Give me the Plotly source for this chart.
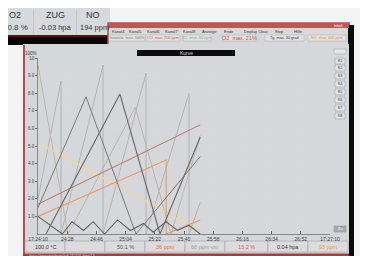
import plotly.graph_objects as go

# ---------------- data ----------------
x_tickvals = [0, 18, 36, 54, 72, 90, 108, 126, 144, 162, 180]
x_ticktext = ["17:24:10", "24:28", "24:46", "25:04", "25:22", "25:40",
              "25:58", "26:16", "26:34", "26:52", "17:27:10"]
y_tickvals = [1, 2, 3, 4, 5, 6, 7, 8, 9, 10]
y_ticktext = ["1.0", "2.0", "3.0", "4.0", "5.0", "6.0", "7.0", "8.0", "9.0", "10"]

# seconds since 17:24:10 / scaled value (x10 %)
yellow_t = [0, 100]
yellow_v = [5.2, 0.2]
brown_t = [0, 100]
brown_v = [1.7, 6.2]
orange_t = [0, 79, 79, 100]
orange_v = [1.0, 4.2, 0.0, 0.8]
gray1_t = [0, 14.2, 14.2, 40.1, 40.1, 66.6, 66.6, 93.1, 93.1, 100]
gray1_v = [2.0, 8.7, 0.0, 9.6, 0.0, 9.15, 0.0, 8.0, 0.0, 1.8]
gray2_t = [0, 18.5, 60, 82, 100]
gray2_v = [9.6, 0.0, 7.2, 0.0, 5.6]
dark1_t = [4.9, 50.5, 75.2, 100]
dark1_v = [0.0, 7.95, 0.0, 5.5]
dark2_t = [0, 29.6, 60.4, 100]
dark2_v = [1.5, 7.8, 0.0, 4.4]
zig_t = [0, 15, 21, 28, 34, 41, 49, 57, 65, 71, 79, 86, 93, 100]
zig_v = [1.0, 0.0, 0.7, 0.2, 0.7, 0.0, 0.8, 0.2, 0.6, 0.1, 0.7, 0.2, 0.5, 0.0]

series = [
    ("Kanal1", gray1_t, gray1_v, "#b4b4b4", 1.0),
    ("Kanal2", gray2_t, gray2_v, "#bdb5ad", 1.0),
    ("Kanal3", yellow_t, yellow_v, "#f2d890", 1.3),
    ("Kanal4", brown_t, brown_v, "#b87868", 1.1),
    ("Kanal5", orange_t, orange_v, "#eb9a6a", 1.1),
    ("Kanal6", dark1_t, dark1_v, "#666666", 1.1),
    ("Kanal7", dark2_t, dark2_v, "#787878", 1.0),
    ("Kanal8", zig_t, zig_v, "#606060", 1.1),
]

header_labels = ["O2", "ZUG", "NO"]
header_values = ["20.8 %", "-0.03 hpa", "194 ppm"]
menu_items = ["Kanal4", "Kanal5", "Kanal6", "Kanal7", "Kanal8", "Anzeige", "Ende",
              "Display Clear", "Stop", "Hilfe"]
button_texts = ["Istwerte  max. 100%", "CO  max. 200 ppm", "SO  max. 80 ppm",
                "O2  max. 21%", "Tg. max. 30 grad", "NO  max. 400 ppm"]
button_colors = ["#777777", "#d06040", "#8aa888", "#d04848", "#333333", "#e89040"]
status_texts = ["100.0 °C", "", "50.1 %", "36 ppm", "66 ppm vm", "13.2 %", "0.04 hpa", "93 ppm"]
status_colors = ["#333333", "#e8d070", "#555555", "#e07030", "#8aa888", "#d06060", "#333333", "#e8a040"]
side_buttons = ["K1", "K2", "K3", "K4", "K5", "K6", "K7", "K8"]

# ---------------- layout geometry (pixels) ----------------
W, H = 368, 256
PL, PR, PT, PB = 30, 322, 50, 226


def X(px):
    return (px - PL) / (PR - PL)


def Y(py):
    return (PB - py) / (PB - PT)


fig = go.Figure()
for name, t, v, c, w in series:
    fig.add_trace(go.Scatter(x=t, y=v, mode="lines", name=name,
                             line=dict(color=c, width=w), hoverinfo="skip"))

shapes = []


def rect(x0, y0, x1, y1, fill, line=None, lw=0, layer="below"):
    shapes.append(dict(type="rect", xref="paper", yref="paper",
                       x0=X(x0), x1=X(x1), y0=Y(y1), y1=Y(y0),
                       fillcolor=fill, line=dict(color=line or fill, width=lw),
                       layer=layer))


annotations = []


def text(x, y, s, color="#444444", size=5, anchor="center", family="Liberation Sans"):
    annotations.append(dict(xref="paper", yref="paper", x=X(x), y=Y(y), text=s,
                            showarrow=False, xanchor=anchor, yanchor="middle",
                            borderpad=0,
                            font=dict(size=size, color=color, family=family)))


# header area
rect(0, 0, 102, 28, "#d7dadd")
rect(25, 2, 26, 26, "#c4c7ca")
rect(68, 2, 69, 26, "#c4c7ca")
text(14, 7, header_labels[0], "#333333", 9, "right")
text(21, 19, header_values[0], "#333333", 8, "right")
text(47, 7, header_labels[1], "#333333", 9)
text(47, 19, header_values[1], "#333333", 7.5)
text(85, 7, header_labels[2], "#333333", 9)
text(86, 19, header_values[2], "#333333", 7.5)
rect(0, 27, 102, 37, "#050505")
rect(0, 27, 102, 29, "#5a1010")

# main window
rect(100, 15, 341, 252, "#d5d6d9", "#b24848", 1.5)
rect(340, 17, 346, 253, "#0a0a0a")
rect(100, 15, 341, 20, "#c45555")
text(330, 17.5, "Inhalt", "#ffffff", 3.5)
rect(101, 20, 340, 26, "#d9d9d9")
menu_x = [110, 127, 145, 163, 181, 201, 221, 248, 271, 290]
for mx, m in zip(menu_x, menu_items):
    text(mx, 23, m, "#333333", 4)
btn_x = [(101, 137), (138, 172), (175, 203), (214, 248), (257, 296), (300, 338)]
for (b0, b1), s, c in zip(btn_x, button_texts, button_colors):
    rect(b0, 27, b1, 33, "#e2e2e2", "#b0b0b0", 0.5)
    text((b0 + b1) / 2, 30, s, c, 3.8 if c != "#d04848" else 5.5)

# chart panel
rect(15, 36, 341, 250, "#d6d7da")
rect(15, 37, 17, 250, "#c04848")
rect(15, 245.5, 341, 251, "#a83c3c")
rect(15, 251, 346, 256, "#050505")
text(20, 248, "Status: Datenaufzeichnung läuft  17:27:10  Kanal 1-8", "#f0d0d0", 2.8, "left")
rect(129, 42, 227, 48, "#0a0a0a")
text(178, 45, "Kurve", "#dddddd", 5)
text(23, 45, "100%", "#444444", 4.5)
rect(326, 41, 338, 46, "#e6e6e6", "#999999", 0.5)

# side buttons
side_y = [53, 60, 68, 76, 84, 92, 100, 108]
for sy, s in zip(side_y, side_buttons):
    rect(327, sy - 3, 337, sy + 3, "#e2e2e2", "#999999", 0.5)
    text(332, sy, s, "#333333", 3.5)
rect(326, 218, 338, 224, "#a8a8b0", "#888888", 0.5)
text(332, 221, "Zu", "#ffffff", 3.5)

# status row
st_edges = [17, 57, 97, 137, 177, 217, 260, 300, 340]
for i, (s, c) in enumerate(zip(status_texts, status_colors)):
    x0, x1 = st_edges[i], st_edges[i + 1]
    rect(x0, 233, x1, 244, "#dcdcde", "#a0a0a8", 0.6)
    if s:
        text((x0 + x1) / 2, 238.5, s, c, 5.5)
    else:
        text((x0 + x1) / 2, 238.5, "xx", "#efe2a0", 5.5)

fig.update_layout(
    width=W, height=H,
    margin=dict(l=PL, r=W - PR, t=PT, b=H - PB, pad=0),
    paper_bgcolor="#f4f4f4",
    plot_bgcolor="#ffffff",
    showlegend=False,
    shapes=shapes,
    annotations=annotations,
    xaxis=dict(range=[0, 180], tickvals=x_tickvals, ticktext=x_ticktext,
               showgrid=True, gridcolor="#d8d8d8", gridwidth=0.8,
               ticks="inside", ticklen=3, tickcolor="#666666",
               tickfont=dict(size=5, color="#444444", family="Liberation Sans"),
               showline=True, linecolor="#888888", linewidth=0.8, zeroline=False,
               fixedrange=True),
    yaxis=dict(range=[0, 10], tickvals=y_tickvals, ticktext=y_ticktext,
               showgrid=True, gridcolor="#d8d8d8", gridwidth=0.8,
               ticks="outside", ticklen=2, tickcolor="#666666",
               tickfont=dict(size=4.5, color="#444444", family="Liberation Sans"),
               showline=True, linecolor="#888888", linewidth=0.8, zeroline=False,
               fixedrange=True),
)

fig.write_html("out.html")
